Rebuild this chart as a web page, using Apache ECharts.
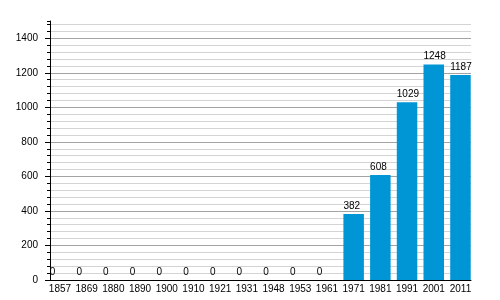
<!DOCTYPE html>
<html>
<head>
<meta charset="utf-8">
<script src="https://cdn.jsdelivr.net/npm/echarts@6/dist/echarts.min.js"></script>
<style>html,body{margin:0;padding:0;background:#fff}#c{width:500px;height:300px}</style>
</head>
<body>
<div id="c"></div>
<script>
const years = ['1857','1869','1880','1890','1900','1910','1921','1931','1948','1953','1961','1971','1981','1991','2001','2011'];
const population = [0,0,0,0,0,0,0,0,0,0,0,382,608,1029,1248,1187];
const yMax = 1500;
const majorStep = 200;
const minorStep = 40;

const minorCount = Math.floor(yMax / minorStep) + 2;
const lineColors = [];
for (let i = 0; i < minorCount; i++) {
  const v = i * minorStep;
  if (v >= yMax) lineColors.push('rgba(0,0,0,0)');
  else lineColors.push(v % majorStep === 0 ? '#a3a3a3' : '#d4d4d4');
}

const font = 'Liberation Sans, Arial, sans-serif';
const chart = echarts.init(document.getElementById('c'), null, {renderer: 'canvas'});
chart.setOption({
  animation: false,
  backgroundColor: '#fff',
  grid: [
    {left: 50, right: 29, top: 21, bottom: 20},
    {left: 46.6, right: 26.2, top: 21, bottom: 20}
  ],
  xAxis: [
    {gridIndex: 0, type: 'category', data: years, boundaryGap: true,
     axisLine: {show: true, lineStyle: {color: '#000', width: 1}},
     axisTick: {show: false}, axisLabel: {show: false}, splitLine: {show: false}, z: 5},
    {gridIndex: 1, type: 'category', data: years,
     axisLine: {show: false}, axisTick: {show: false},
     axisLabel: {show: true, color: '#000', fontSize: 10, fontFamily: font, margin: 4, interval: 0}}
  ],
  yAxis: [
    {gridIndex: 0, type: 'value', position: 'left', min: 0, max: yMax, interval: minorStep,
     axisLine: {show: true, lineStyle: {color: '#000', width: 1}},
     axisTick: {show: true, length: 3, lineStyle: {color: '#000'}},
     axisLabel: {show: false},
     splitLine: {show: true, lineStyle: {color: lineColors, width: 1}}, z: 0},
    {gridIndex: 0, type: 'value', position: 'left', offset: 0, min: 0, max: yMax, interval: majorStep,
     axisLine: {show: false},
     axisTick: {show: true, length: 5, lineStyle: {color: '#000'}},
     axisLabel: {show: true, color: '#000', fontSize: 10, fontFamily: font, margin: 12, showMaxLabel: false,
                 formatter: v => String(v)},
     splitLine: {show: false}, z: 0},
    {gridIndex: 1, type: 'value', min: 0, max: yMax, show: false}
  ],
  series: [{
    type: 'bar',
    xAxisIndex: 1, yAxisIndex: 2,
    data: population,
    barWidth: 20.5,
    z: 3,
    itemStyle: {color: '#0096d6'},
    label: {show: true, position: [0, -3], align: 'left', verticalAlign: 'bottom',
            color: '#000', fontSize: 10, fontFamily: font}
  }]
});
</script>
</body>
</html>
